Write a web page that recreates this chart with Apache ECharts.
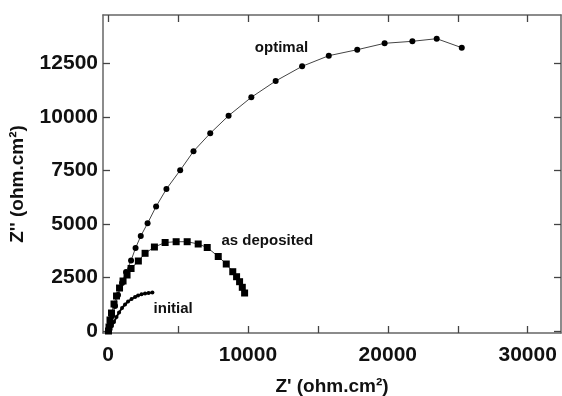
<!DOCTYPE html>
<html>
<head>
<meta charset="utf-8">
<script src="https://cdn.jsdelivr.net/npm/echarts@6/dist/echarts.min.js"></script>
<style>
  html, body { margin: 0; padding: 0; background: #fff; }
  #chart { width: 562px; height: 396px; }
</style>
</head>
<body>
<div id="chart"></div>
<script>
// Nyquist data, [Z', Z''] in ohm.cm2
const optimalData = [
    [36, 47], [143, 327], [287, 701], [501, 1168], [716, 1682], [1003, 2243],
    [1289, 2757], [1648, 3294], [1970, 3879], [2342, 4439], [2829, 5033],
    [3438, 5818], [4176, 6636], [5158, 7510], [6110, 8398], [7307, 9239],
    [8618, 10061], [10244, 10921], [11984, 11683], [13875, 12369], [15781, 12865],
    [17815, 13145], [19771, 13444], [21755, 13538], [23496, 13660], [25287, 13239]
];
const depositedData = [
    [36, 0], [72, 187], [143, 514], [250, 841], [430, 1262], [609, 1636],
    [824, 2009], [1075, 2337], [1361, 2617], [1648, 2921], [2170, 3271],
    [2650, 3631], [3317, 3925], [4083, 4136], [4871, 4173], [5659, 4173],
    [6447, 4066], [7092, 3902], [7880, 3481], [8453, 3131], [8918, 2771],
    [9190, 2537], [9405, 2304], [9599, 2042], [9764, 1776]
];
const initialData = [
    [72, 0], [143, 70], [287, 234], [430, 421], [609, 654], [788, 864],
    [1003, 1075], [1218, 1238], [1433, 1379], [1683, 1495], [1934, 1589],
    [2149, 1659], [2400, 1715], [2650, 1752], [2901, 1776], [3173, 1799]
];
const xLabelValues = [0, 10000, 20000, 30000];
const xTickValues = [0, 5000, 10000, 15000, 20000, 25000, 30000];
const yTickValues = [0, 2500, 5000, 7500, 10000, 12500];
const labelPos = { optimal: [12400, 13230], deposited: [11390, 4210], initial: [4660, 1030] };

const chart = echarts.init(document.getElementById('chart'));

const frameLine = { show: true, onZero: false, lineStyle: { color: '#666', width: 1.5 } };
const tickStyle = { show: true, inside: true, length: 7, lineStyle: { color: '#444', width: 1.3 } };
const tickFont = { fontFamily: 'Liberation Sans', fontWeight: 'bold', fontSize: 21, color: '#111',
                   formatter: v => String(v) };

function tagPoint(pos, text) {
    return {
        symbol: 'circle',
        symbolSize: 1,
        itemStyle: { color: 'rgba(0,0,0,0)' },
        label: { show: true, position: 'inside', formatter: text,
                 fontFamily: 'Liberation Sans', fontWeight: 'bold', fontSize: 15, color: '#111' },
        data: [{ coord: pos }]
    };
}

const option = {
    animation: false,
    grid: { left: 103, right: 1, top: 15, bottom: 63, containLabel: false, outerBoundsMode: 'none' },
    xAxis: [{
        type: 'value', min: -358, max: 32380, position: 'bottom',
        axisLine: frameLine,
        axisTick: Object.assign({ customValues: xTickValues }, tickStyle),
        axisLabel: Object.assign({ customValues: xLabelValues, margin: 12 }, tickFont),
        splitLine: { show: false },
        name: "Z' (ohm.cm²)", nameLocation: 'middle', nameGap: 44,
        nameTextStyle: { fontFamily: 'Liberation Sans', fontWeight: 'bold', fontSize: 19, color: '#111' }
    }, {
        type: 'value', min: -358, max: 32380, position: 'top',
        axisLine: frameLine,
        axisTick: Object.assign({ customValues: xTickValues }, tickStyle),
        axisLabel: { show: false },
        splitLine: { show: false }
    }],
    yAxis: [{
        type: 'value', min: -93, max: 14767, position: 'left',
        axisLine: frameLine,
        axisTick: Object.assign({ customValues: yTickValues }, tickStyle),
        axisLabel: Object.assign({ customValues: yTickValues, margin: 5 }, tickFont),
        splitLine: { show: false },
        name: "Z'' (ohm.cm²)", nameLocation: 'middle', nameGap: 76, nameRotate: 90,
        nameTextStyle: { fontFamily: 'Liberation Sans', fontWeight: 'bold', fontSize: 19, color: '#111',
                         padding: [0, 20, 0, 0] }
    }, {
        type: 'value', min: -93, max: 14767, position: 'right',
        axisLine: frameLine,
        axisTick: Object.assign({ customValues: yTickValues }, tickStyle),
        axisLabel: { show: false },
        splitLine: { show: false }
    }],
    series: [{
        name: 'optimal', type: 'line', data: optimalData,
        symbol: 'circle', symbolSize: 6, showAllSymbol: true,
        itemStyle: { color: '#000' },
        lineStyle: { color: '#444', width: 1 },
        markPoint: tagPoint(labelPos.optimal, 'optimal')
    }, {
        name: 'as deposited', type: 'line', data: depositedData,
        symbol: 'rect', symbolSize: 7, showAllSymbol: true,
        itemStyle: { color: '#000' },
        lineStyle: { color: '#444', width: 1 },
        markPoint: tagPoint(labelPos.deposited, 'as deposited')
    }, {
        name: 'initial', type: 'line', data: initialData,
        symbol: 'circle', symbolSize: 4, showAllSymbol: true,
        itemStyle: { color: '#000' },
        lineStyle: { color: '#000', width: 2 },
        markPoint: tagPoint(labelPos.initial, 'initial')
    }]
};

chart.setOption(option);
</script>
</body>
</html>
